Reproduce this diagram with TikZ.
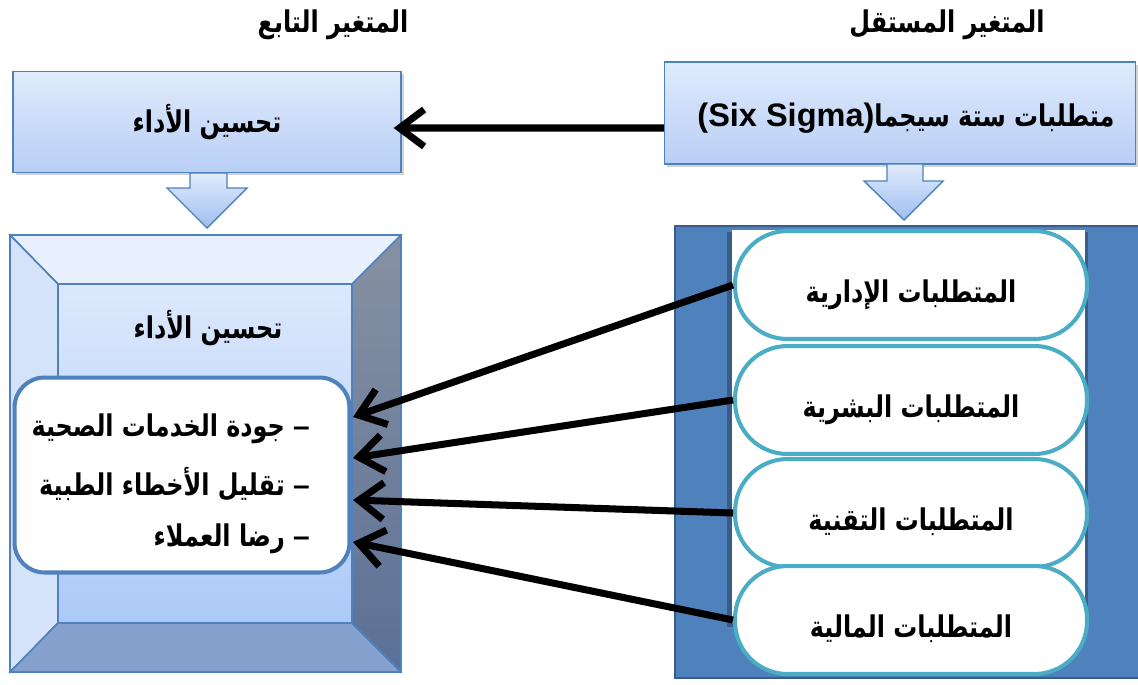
\documentclass[tikz,border=0pt]{standalone}
\usepackage{fontspec}
\usepackage{tikz}
\usetikzlibrary{arrows.meta,positioning,shadows}
\setmainfont{Liberation Sans}
\newfontfamily\arabicfont[Script=Arabic, FakeStretch=0.8]{DejaVu Sans}
\TeXXeTstate=1
\definecolor{boxTop}{RGB}{224,235,252}
\definecolor{boxBottom}{RGB}{184,206,245}
\definecolor{boxLine}{RGB}{79,129,189}
\definecolor{arrowBottom}{RGB}{158,190,240}
\definecolor{faceTop}{RGB}{232,240,253}
\definecolor{faceLeft}{RGB}{212,226,250}
\definecolor{faceRightTop}{RGB}{135,145,162}
\definecolor{faceRightBottom}{RGB}{92,112,150}
\definecolor{faceBottom}{RGB}{135,161,206}
\definecolor{innerTop}{RGB}{220,232,252}
\definecolor{innerBottom}{RGB}{172,202,248}
\definecolor{panelBlue}{RGB}{79,129,189}
\definecolor{panelEdge}{RGB}{56,93,138}
\definecolor{reqLine}{RGB}{75,172,198}
\newcommand{\artxt}{\arabicfont\bfseries\fontsize{17}{20}\selectfont}
\newcommand{\itemdash}{{\normalfont\bfseries\fontsize{17}{20}\selectfont –}}

\begin{document}
\begin{tikzpicture}[x=0.02cm, y=-0.02cm,
  bluebox/.style={draw=boxLine, line width=0.8pt, top color=boxTop, bottom color=boxBottom,
    inner sep=0pt, drop shadow={shadow xshift=1.5pt, shadow yshift=-1.5pt, opacity=0.35}},
  reqbox/.style={draw=reqLine, line width=2.3pt, fill=white, rounded corners=1.05cm,
    minimum width=7.04cm, minimum height=2.16cm, inner sep=0pt, font=\artxt,
    text height=0.84cm, text depth=0.14cm},
  downarrow/.style={draw=boxLine, line width=0.8pt, top color=boxTop, bottom color=arrowBottom},
  face/.style={draw=boxLine, line width=0.8pt},
  link/.style={line width=4pt, -{Straight Barb[length=14pt, width=21pt]}}]
\useasboundingbox (0,0) rectangle (1138,684);

% headers
\node[font=\artxt] (hdrIndep) at (947,25) {\beginR المتغير المستقل\endR};
\node[font=\artxt] (hdrDep) at (333,25) {\beginR المتغير التابع\endR};

% top boxes
\node[bluebox, minimum width=9.42cm, minimum height=2.04cm] (indep) at (900,113) {};
\node[font=\artxt] (indepTxt) at (906,118)
  {\beginR متطلبات ستة سيجما\beginL{\normalfont\bfseries\fontsize{18.5}{20}\selectfont(Six Sigma)}\endL\endR};
\node[bluebox, minimum width=7.76cm, minimum height=2.02cm, font=\artxt] (dep) at (207,122) {\beginR تحسين الأداء\endR};

% block arrows
\path[downarrow] (887,164) -- (923,164) -- (923,181) -- (943,181) -- (904,220)
  -- (864,181) -- (887,181) -- cycle;
\path[downarrow] (190,173) -- (227,173) -- (227,188) -- (247,188) -- (207,228)
  -- (167,188) -- (190,188) -- cycle;

% bevel box
\fill[face, fill=faceTop] (10,235) -- (401,235) -- (352,284) -- (58,284) -- cycle;
\fill[face, fill=faceLeft] (10,235) -- (58,284) -- (58,623) -- (10,672) -- cycle;
\shade[top color=faceRightTop, bottom color=faceRightBottom] (401,235) -- (401,672) -- (352,623) -- (352,284) -- cycle;
\fill[face, fill=faceBottom] (10,672) -- (401,672) -- (352,623) -- (58,623) -- cycle;
\shade[top color=innerTop, bottom color=innerBottom] (58,284) rectangle (352,623);
\draw[face] (10,235) rectangle (401,672);
\draw[face] (58,284) rectangle (352,623);
\draw[face] (10,235) -- (58,284) (401,235) -- (352,284) (10,672) -- (58,623) (401,672) -- (352,623);
\node[font=\artxt] (perf) at (208,328) {\beginR تحسين الأداء\endR};

% outcomes
\node[draw=boxLine, line width=2.3pt, fill=white, rounded corners=0.6cm,
  minimum width=6.7cm, minimum height=3.9cm] (goals) at (182,475) {};
\node[font=\artxt, anchor=east] (g1) at (316,429) {\beginR\itemdash\ جودة الخدمات الصحية\endR};
\node[font=\artxt, anchor=east] (g2) at (316,484) {\beginR\itemdash\ تقليل الأخطاء الطبية\endR};
\node[font=\artxt, anchor=east] (g3) at (316,539) {\beginR\itemdash\ رضا العملاء\endR};

% requirements panel
\draw[panelEdge, fill=panelBlue, line width=1.2pt] (675,226) rectangle (1145,678);
\fill[panelEdge] (727,232) rectangle (1088,627);
\fill[white] (732,230) rectangle (1085,623);
\node[reqbox] (req1) at (911,285) {\beginR المتطلبات الإدارية\endR};
\node[reqbox] (req2) at (911,400) {\beginR المتطلبات البشرية\endR};
\node[reqbox] (req3) at (911,513) {\beginR المتطلبات التقنية\endR};
\node[reqbox] (req4) at (911,620) {\beginR المتطلبات المالية\endR};

% connectors
\coordinate (t1) at (353,417);
\coordinate (t2) at (353,458);
\coordinate (t3) at (353,500);
\coordinate (t4) at (353,542);
\draw[link] (req1.west) -- (t1);
\draw[link] (req2.west) -- (t2);
\draw[link] (req3.west) -- (t3);
\draw[link] (req4.west) -- (t4);
\draw[link] ([yshift=-0.3cm]indep.west) -- ([xshift=-0.16cm, yshift=-0.12cm]dep.east);
\end{tikzpicture}
\end{document}
